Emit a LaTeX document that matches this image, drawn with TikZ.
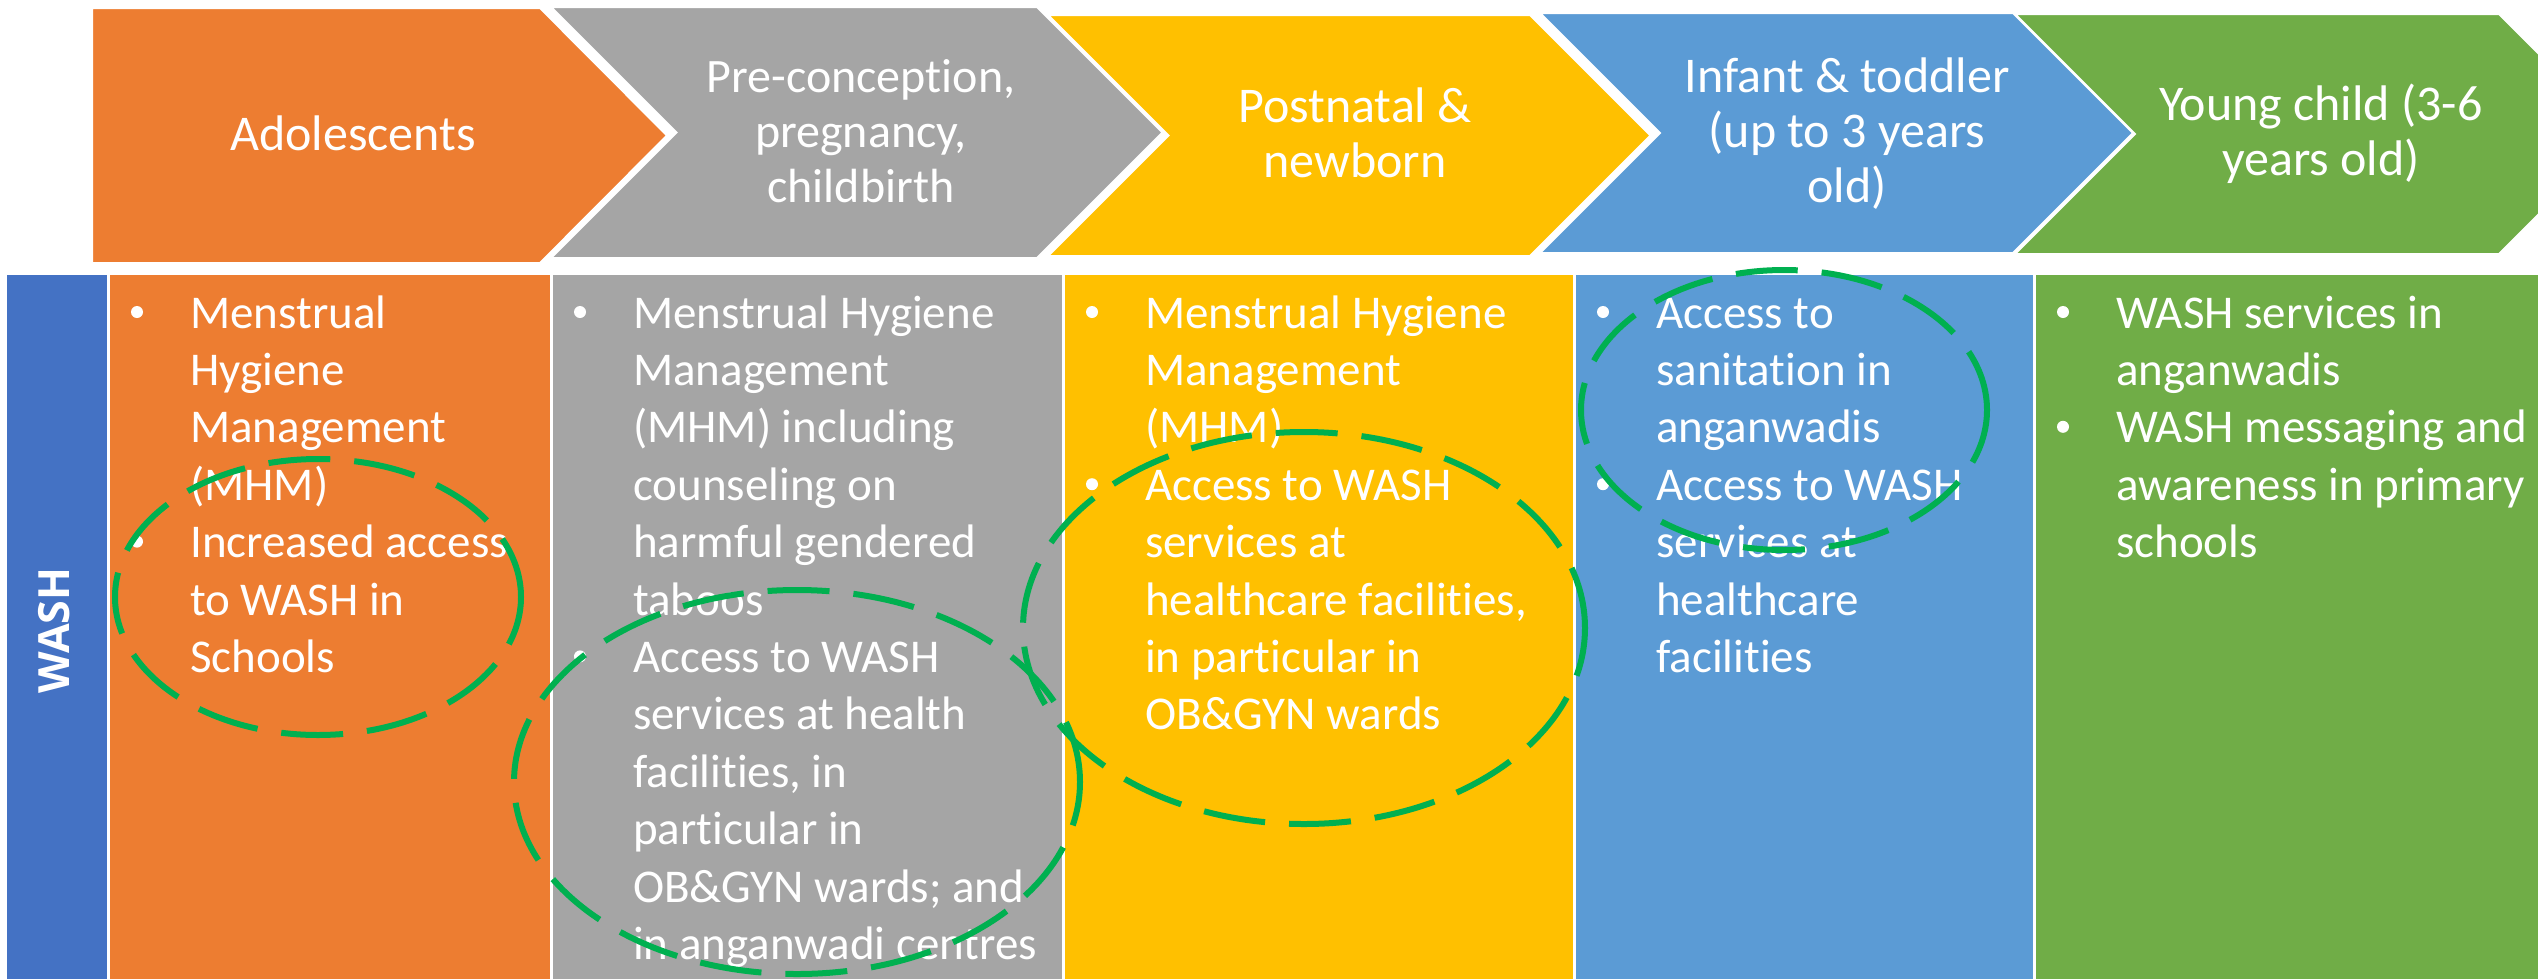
\documentclass[tikz,border=0pt]{standalone}
\usepackage{fontspec}
\setmainfont{Carlito}[RawFeature={-liga;-clig;-calt;-dlig}]
\newfontfamily\washfont{Open Sans}
\usetikzlibrary{shapes.geometric}
\definecolor{cOrange}{HTML}{ED7D31}
\definecolor{cGray}{HTML}{A5A5A5}
\definecolor{cYellow}{HTML}{FFC000}
\definecolor{cBlue}{HTML}{5B9BD5}
\definecolor{cGreen}{HTML}{70AD47}
\definecolor{cWash}{HTML}{4472C4}
\definecolor{cHl}{HTML}{00B050}
\newcommand\txtlines[6]{%
  \foreach \t [count=\i from 0] in {#6}{%
    \node[#2] (#1\i) at (#3,{#4+\i*#5}) {\t};}}
\tikzset{
  coltext/.style={font=\fontsize{47}{57}\selectfont, text=white, inner sep=0pt, anchor=base west},
  chevtext/.style={font=\fontsize{50}{55}\selectfont, text=white, inner sep=0pt, anchor=base},
  chevsmall/.style={chevtext, font=\fontsize{48}{55}\selectfont},
  bul/.style={circle, fill=white, minimum size=12pt, inner sep=0pt},
  hl/.style={ellipse, draw=cHl, line width=6pt, dash pattern=on 62pt off 24pt, inner sep=0pt},
  chev/.style={draw=white, line width=2pt},
}
\begin{document}
\begin{tikzpicture}[x=1pt,y=-1pt]
\useasboundingbox (0,0) rectangle (2538,978);
\clip (0,0) rectangle (2538,978);
\fill[white] (0,0) rectangle (2538,978);
% chevrons
\path[fill=cOrange,chev] (92,8) -- (540,8) -- (667,135.5) -- (540,263) -- (92,263) -- cycle;
\path[fill=cGray,chev] (551,7) -- (1037,7) -- (1162.5,132.5) -- (1037,258) -- (551,258) -- (676.5,132.5) -- cycle;
\path[fill=cYellow,chev] (1048,15) -- (1530,15) -- (1650.5,135.5) -- (1530,256) -- (1048,256) -- (1168.5,135.5) -- cycle;
\path[fill=cBlue,chev] (1540,13) -- (2013,13) -- (2133,133) -- (2013,253) -- (1540,253) -- (1660,133) -- cycle;
\path[fill=cGreen,chev] (2015,14) -- (2499,14) -- (2619,134) -- (2499,254) -- (2015,254) -- (2135,134) -- cycle;
% chevron texts
\txtlines{ch1-}{chevtext}{353}{150}{55}{Adolescents}
\txtlines{ch2-}{chevsmall}{861}{92}{55}{{Pre-conception,},{pregnancy,},{childbirth}}
\txtlines{ch3-}{chevtext}{1355}{122}{55}{{Postnatal \&},{newborn}}
\txtlines{ch4-}{chevtext}{1847}{92}{55}{{Infant \& toddler},{(up to 3 years},{old)}}
\txtlines{ch5-}{chevtext}{2321}{120}{55}{{Young child (3-6},{years old)}}
% columns
\fill[cWash] (7,275) rectangle (107,990);
\fill[cOrange] (110,275) rectangle (550,990);
\fill[cGray] (553,275) rectangle (1062,990);
\fill[cYellow] (1065,275) rectangle (1573,990);
\fill[cBlue] (1576,275) rectangle (2033,990);
\fill[cGreen] (2036,275) rectangle (2560,990);
\node[rotate=90, text=white, inner sep=0pt, font=\washfont\bfseries\fontsize{43}{48}\selectfont] (wash) at (54.5,630.5) {WASH};
% column texts
\txtlines{o}{coltext}{190}{328}{57.4}{{Menstrual},{Hygiene},{Management},{(MHM)},{Increased access},{to WASH in},{Schools}}
\node[bul] (ob1) at (137,312) {};
\node[bul] (ob2) at (137,{312+4*57.4}) {};
\txtlines{g}{coltext}{633}{328}{57.4}{{Menstrual Hygiene},{Management},{(MHM) including},{counseling on},{harmful gendered},{taboos},{Access to WASH},{services at health},{facilities, in},{particular in},{OB\&GYN wards; and},{in anganwadi centres}}
\node[bul] (gb1) at (580,312) {};
\node[bul] (gb2) at (580,{312+6*57.4}) {};
\txtlines{y}{coltext}{1145}{328}{57.4}{{Menstrual Hygiene},{Management},{(MHM)},{Access to WASH},{services at},{healthcare facilities,},{in particular in},{OB\&GYN wards}}
\node[bul] (yb1) at (1092,312) {};
\node[bul] (yb2) at (1092,{312+3*57.4}) {};
\txtlines{b}{coltext}{1656}{328}{57.4}{{Access to},{sanitation in},{anganwadis},{Access to WASH},{services at},{healthcare},{facilities}}
\node[bul] (bb1) at (1603,312) {};
\node[bul] (bb2) at (1603,{312+3*57.4}) {};
\txtlines{n}{coltext}{2116}{328}{57.4}{{WASH services in},{anganwadis},{WASH messaging and},{awareness in primary},{schools}}
\node[bul] (nb1) at (2063,312) {};
\node[bul] (nb2) at (2063,{312+2*57.4}) {};
% highlight ellipses
\node[hl, minimum width=406pt, minimum height=276pt] (e1) at (318,597) {};
\node[hl, minimum width=566pt, minimum height=384pt] (e2) at (797,782) {};
\node[hl, minimum width=562pt, minimum height=392pt] (e3) at (1304,628) {};
\node[hl, minimum width=406pt, minimum height=280pt] (e4) at (1784,410) {};
\end{tikzpicture}
\end{document}
